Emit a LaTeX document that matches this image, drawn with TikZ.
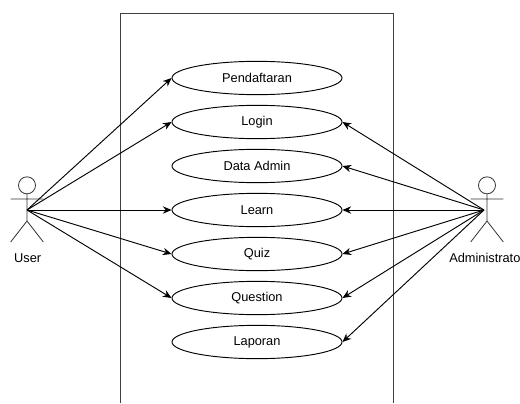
\documentclass[tikz,border=0pt]{standalone}
\usepackage{fontspec}
\setmainfont{Liberation Sans}
\usetikzlibrary{arrows.meta,shapes.geometric}
\tikzset{
	usecase/.style={ellipse, draw, line width=0.7pt, minimum width=127.5pt, minimum height=25pt, inner sep=0pt, font=\fontsize{9.6}{12}\selectfont},
	assoc/.style={-{Stealth[length=6.5pt,width=5.5pt]}, line width=0.7pt},
	actorlimb/.style={line width=0.6pt, draw=black!80},
	actorhead/.style={circle, draw, actorlimb, minimum size=12.75pt, inner sep=0pt},
	actorlabel/.style={font=\fontsize{9.6}{12}\selectfont, inner sep=0pt}
}
\begin{document}
\begin{tikzpicture}[x=1pt,y=-1pt]
	\useasboundingbox (0,0) rectangle (390,302.25);
	\draw[line width=0.7pt, draw=black!75] (90,302.25) -- (90,9.75) -- (295,9.75) -- (295,302.25);
	\node[usecase] (pendaftaran) at (192.75,58.5) {Pendaftaran};
	\node[usecase] (login) at (192.75,91.5) {Login};
	\node[usecase] (dataadmin) at (192.75,124.5) {Data Admin};
	\node[usecase] (learn) at (192.75,157.5) {Learn};
	\node[usecase] (quiz) at (192.75,190.5) {Quiz};
	\node[usecase] (question) at (192.75,223.5) {Question};
	\node[usecase] (laporan) at (192.75,256.5) {Laporan};
	% actors
	\coordinate (user) at (20.25,157.5);
	\coordinate (admin) at (363,157.5);
	\node[actorhead] (userhead) at (20.25,139) {};
	\node[actorhead] (adminhead) at (365.25,139) {};
	\coordinate (userarml) at (8,149.25);
	\coordinate (userarmr) at (32.5,149.25);
	\coordinate (userhip) at (20.25,165.75);
	\coordinate (userfootl) at (8,181.5);
	\coordinate (userfootr) at (32.5,181.5);
	\coordinate (adminarml) at (353,149.25);
	\coordinate (adminarmr) at (377.5,149.25);
	\coordinate (adminhip) at (365.25,165.75);
	\coordinate (adminfootl) at (353,181.5);
	\coordinate (adminfootr) at (377.5,181.5);
	\draw[actorlimb] (userhead) -- (userhip) -- (userfootl) (userhip) -- (userfootr) (userarml) -- (userarmr);
	\draw[actorlimb] (adminhead) -- (adminhip) -- (adminfootl) (adminhip) -- (adminfootr) (adminarml) -- (adminarmr);
	\node[actorlabel] (userlabel) at (20.75,193.5) {User};
	\node[actorlabel, anchor=west] (adminlabel) at (336.75,193.5) {Administrato};
	\foreach \uc in {pendaftaran,login,learn,quiz,question}
		\draw[assoc] (user) -- (\uc.west);
	\foreach \uc in {login,dataadmin,learn,quiz,question,laporan}
		\draw[assoc] (admin) -- (\uc.east);
\end{tikzpicture}
\end{document}
